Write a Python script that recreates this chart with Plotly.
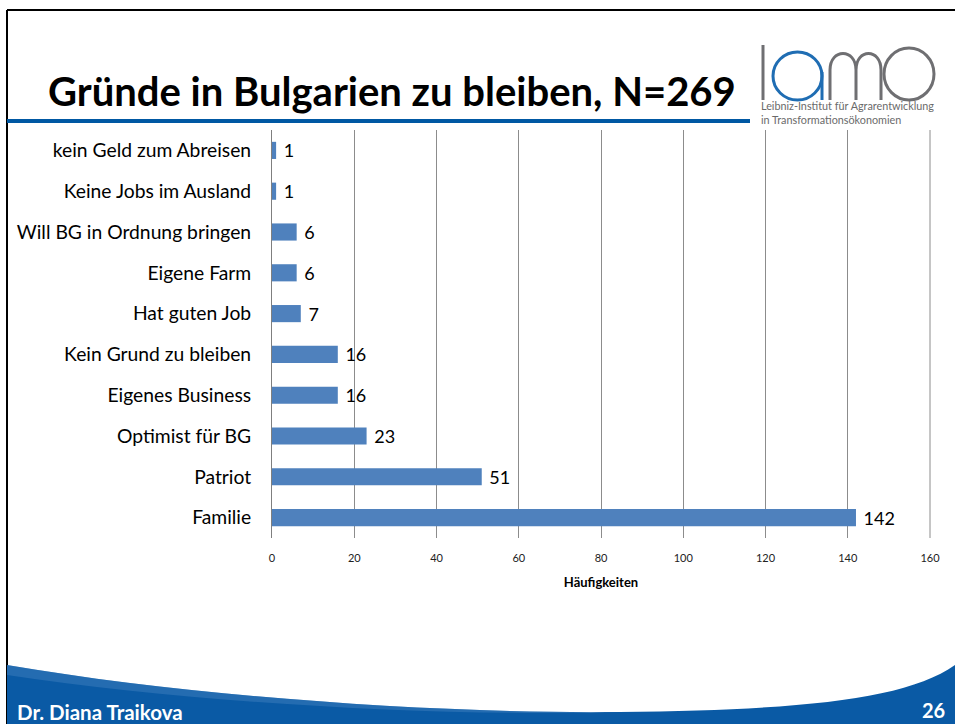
import plotly.graph_objects as go

categories = ["kein Geld zum Abreisen", "Keine Jobs im Ausland", "Will BG in Ordnung bringen",
              "Eigene Farm", "Hat guten Job", "Kein Grund zu bleiben", "Eigenes Business",
              "Optimist für BG", "Patriot", "Familie"]
counts = [1, 1, 6, 6, 7, 16, 16, 23, 51, 142]
x_ticks = [0, 20, 40, 60, 80, 100, 120, 140, 160]

W, H = 955, 724
def px(x): return x / W
def py(y): return 1 - y / H

FONT = "Lato"
BLUE = "#0a5aa5"
GRAY_LOGO = "#6f6f72"
BLUE_LOGO = "#1f6db3"

fig = go.Figure(go.Bar(
    y=categories, x=counts, orientation="h",
    marker=dict(color="#4f81bd", line=dict(width=0)),
    width=0.42,
    text=[" " + str(v) for v in counts], textposition="outside", constraintext="none",
    textfont=dict(family=FONT, size=18, color="#000000"),
    cliponaxis=False,
))

fig.update_layout(
    autosize=True, margin=dict(l=0, r=0, t=0, b=0, autoexpand=False),
    paper_bgcolor="white", plot_bgcolor="white", showlegend=False,
    font=dict(family=FONT, color="#000000"),
    xaxis=dict(domain=[px(272), px(930)], range=[0, 160], tickvals=x_ticks,
               showgrid=True, gridcolor="#8c8c8c", gridwidth=1, zeroline=False,
               showline=False, ticks="", tickfont=dict(size=11, color="#222222"),
               ticklabelstandoff=12,
               title=dict(text="<b>Häufigkeiten</b>", font=dict(size=13, color="#000000"),
                          standoff=14)),
    yaxis=dict(domain=[py(538), py(130)], autorange="reversed",
               showline=True, linecolor="#7f7f7f", linewidth=1, showgrid=False,
               ticks="", tickfont=dict(size=19.3, color="#000000"), ticklabelstandoff=16),
)

shapes = []
shapes.append(dict(type="line", xref="paper", yref="paper", x0=px(7), x1=1, y0=py(10), y1=py(10),
                   line=dict(color="#000000", width=2)))
shapes.append(dict(type="line", xref="paper", yref="paper", x0=px(7), x1=px(7), y0=py(10), y1=0,
                   line=dict(color="#000000", width=2)))
shapes.append(dict(type="rect", xref="paper", yref="paper", x0=px(7), x1=px(750), y0=py(123), y1=py(119),
                   fillcolor="#0058a3", line=dict(width=0)))
shapes.append(dict(type="line", xref="paper", yref="paper", x0=px(930), x1=px(930), y0=py(538), y1=py(130),
                   line=dict(color="#8c8c8c", width=1)))

def P(x, y): return f"{px(x)},{py(y)}"
sw = (f"M {P(7,665)} C {P(200,698)} {P(450,714)} {P(620,712)} "
      f"C {P(800,710)} {P(905,700)} {P(955,665)} L {P(955,724)} L {P(7,724)} Z")
shapes.append(dict(type="path", xref="paper", yref="paper", path=sw, fillcolor=BLUE, line=dict(width=0), layer="above"))
hl = (f"M {P(7,665)} C {P(200,698)} {P(450,714)} {P(620,712)} "
      f"C {P(450,717)} {P(200,704)} {P(7,675)} Z")
shapes.append(dict(type="path", xref="paper", yref="paper", path=hl, fillcolor="#4a86c4", opacity=0.4,
                   line=dict(width=0), layer="above"))

lc = dict(color=GRAY_LOGO, width=3)
lb = dict(color=BLUE_LOGO, width=3)
shapes.append(dict(type="line", xref="paper", yref="paper", x0=px(763), x1=px(763), y0=py(45), y1=py(100), line=lc))
shapes.append(dict(type="circle", xref="paper", yref="paper", x0=px(773), x1=px(822), y0=py(100), y1=py(52), line=lb))
shapes.append(dict(type="line", xref="paper", yref="paper", x0=px(822), x1=px(822), y0=py(72), y1=py(100), line=lb))
m = (f"M {P(830,100)} L {P(830,70)} C {P(830,48)} {P(856,48)} {P(856,70)} L {P(856,100)} "
     f"M {P(856,70)} C {P(856,48)} {P(881,48)} {P(881,70)} L {P(881,100)}")
shapes.append(dict(type="path", xref="paper", yref="paper", path=m, line=lc))
shapes.append(dict(type="circle", xref="paper", yref="paper", x0=px(884), x1=px(934), y0=py(100), y1=py(48), line=lc))

fig.update_layout(shapes=shapes)

ann = []
ann.append(dict(text="<b>Gründe in Bulgarien zu bleiben, N=269</b>", x=px(46), y=py(91),
                xref="paper", yref="paper", xanchor="left", yanchor="middle", showarrow=False,
                font=dict(family=FONT, size=40, color="#000000")))
ann.append(dict(text="Leibniz-Institut für Agrarentwicklung<br>in Transformationsökonomien",
                x=px(759), y=py(112), xref="paper", yref="paper", xanchor="left", yanchor="middle",
                align="left", showarrow=False, font=dict(family=FONT, size=10.8, color="#6a6a6a")))
ann.append(dict(text="<b>Dr. Diana Traikova</b>", x=px(15), y=py(712), xref="paper", yref="paper",
                xanchor="left", yanchor="middle", showarrow=False,
                font=dict(family=FONT, size=20.5, color="#ffffff")))
ann.append(dict(text="<b>26</b>", x=px(947), y=py(710), xref="paper", yref="paper",
                xanchor="right", yanchor="middle", showarrow=False,
                font=dict(family=FONT, size=20, color="#ffffff")))
fig.update_layout(annotations=ann)

post = ("document.documentElement.style.margin='0';document.body.style.margin='0';"
        "document.body.style.overflow='hidden';document.documentElement.style.overflow='hidden';"
        "var d=document.getElementById('{plot_id}');"
        "d.style.position='fixed';d.style.left='0px';d.style.top='0px';"
        "d.style.width='100vw';d.style.height='100vh';"
        "Plotly.Plots.resize(d);")
fig.write_html("out.html", config={"displayModeBar": False, "responsive": True},
               post_script=post, default_width="100vw", default_height="100vh")
